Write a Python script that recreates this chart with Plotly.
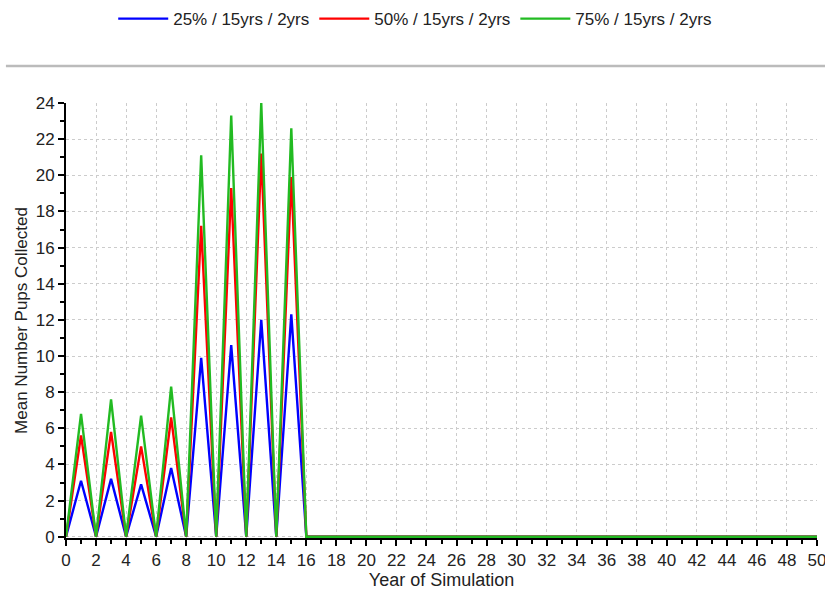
import plotly.graph_objects as go

years = list(range(0, 51))
peaks_years = [1, 3, 5, 7, 9, 11, 13, 15]
blue_peaks = [3.1, 3.2, 2.9, 3.8, 9.9, 10.6, 12.0, 12.3]
red_peaks = [5.6, 5.8, 5.0, 6.6, 17.2, 19.3, 21.2, 19.9]
green_peaks = [6.8, 7.6, 6.7, 8.3, 21.1, 23.3, 24.0, 22.6]

series_names = ["25% / 15yrs / 2yrs", "50% / 15yrs / 2yrs", "75% / 15yrs / 2yrs"]
series_colors = ["#0000FF", "#FF0000", "#22BB22"]


def build(peaks):
    vals = [0.0] * len(years)
    for y, v in zip(peaks_years, peaks):
        vals[y] = v
    return vals


series_values = [build(blue_peaks), build(red_peaks), build(green_peaks)]

fig = go.Figure()
for name, color, vals in zip(series_names, series_colors, series_values):
    fig.add_trace(go.Scatter(x=years, y=vals, mode="lines", name=name,
                             line=dict(color=color, width=2.4)))

font_family = "Liberation Sans, Arial, sans-serif"
fig.update_layout(
    width=825, height=593,
    margin=dict(l=66, r=8, t=103, b=55, autoexpand=False),
    paper_bgcolor="white", plot_bgcolor="white",
    font=dict(family=font_family, size=17, color="#222222"),
    showlegend=True,
    legend=dict(orientation="h", x=0.465, xanchor="center", y=1.193, yanchor="middle",
                font=dict(size=17, color="#222222"), itemwidth=50, tracegroupgap=0),
    shapes=[dict(type="line", xref="paper", yref="paper", x0=-0.08, x1=1.02,
                 y0=1.085, y1=1.085, line=dict(color="#BBBBBB", width=2.5))],
)
fig.update_xaxes(
    range=[0, 50], dtick=2, tick0=0, showline=True, linecolor="black", linewidth=2,
    ticks="outside", ticklen=6, tickwidth=2, tickcolor="black",
    showgrid=True, gridcolor="#CCCCCC", griddash="dot", gridwidth=1,
    zeroline=False, ticklabeloverflow="allow", layer="below traces",
    minor=dict(ticks="outside", dtick=1, ticklen=4, tickwidth=1.5, tickcolor="black", showgrid=False),
    title=dict(text="Year of Simulation", font=dict(size=18), standoff=4),
    tickfont=dict(size=17),
)
fig.update_yaxes(
    range=[-0.07, 24], dtick=2, tick0=0, showline=True, linecolor="black", linewidth=2,
    ticks="outside", ticklen=6, tickwidth=2, tickcolor="black",
    showgrid=True, gridcolor="#CCCCCC", griddash="dot", gridwidth=1,
    zeroline=False, ticklabeloverflow="allow", layer="below traces",
    minor=dict(ticks="outside", dtick=1, ticklen=4, tickwidth=1.5, tickcolor="black", showgrid=False),
    title=dict(text="Mean Number Pups Collected", font=dict(size=17), standoff=4),
    tickfont=dict(size=17),
)

fig.write_html("out.html")
